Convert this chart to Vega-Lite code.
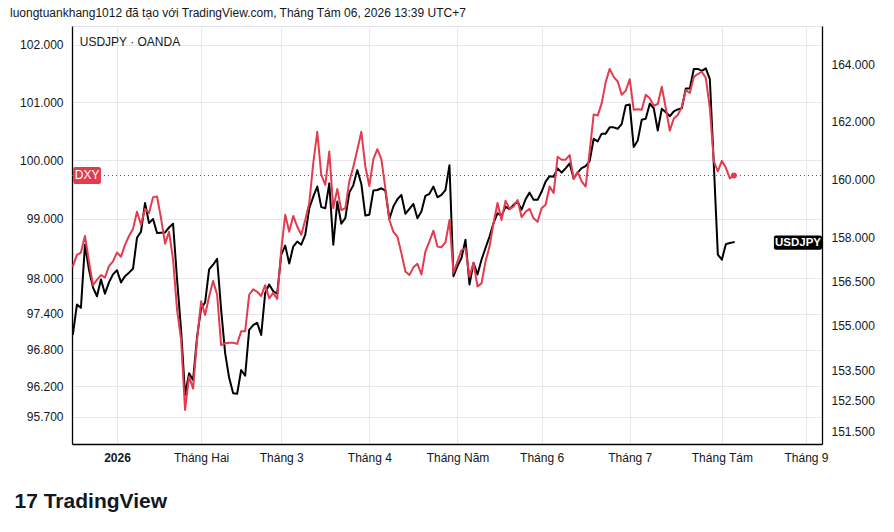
{
  "$schema": "https://vega.github.io/schema/vega-lite/v6.json",
  "description": "USDJPY (OANDA, right axis) against DXY (left axis), daily, Dec 2025 - Aug 2026, log scales as in the TradingView snapshot.",
  "width": 750,
  "height": 418,
  "autosize": "none",
  "padding": {"left": 72, "top": 26, "right": 72, "bottom": 88},
  "background": "#ffffff",
  "config": {
    "view": {"stroke": "#e0e3eb"},
    "font": "Liberation Sans",
    "axis": {
      "labelFont": "Liberation Sans",
      "labelFontSize": 12,
      "labelColor": "#131722",
      "domainColor": "#000000",
      "domainWidth": 1.3,
      "ticks": false,
      "gridColor": "#e6e8ee",
      "gridWidth": 1
    }
  },
  "title": {
    "text": "luongtuankhang1012 đã tạo với TradingView.com, Tháng Tám 06, 2026 13:39 UTC+7",
    "anchor": "start",
    "frame": "group",
    "dx": -62,
    "offset": 6,
    "font": "Liberation Sans",
    "fontSize": 12,
    "fontWeight": "normal",
    "color": "#131722"
  },
  "datasets": {
    "fx": [
      {"i": -11, "dxy": 98.20, "usdjpy": 154.72},
      {"i": -10, "dxy": 98.39, "usdjpy": 155.71},
      {"i": -9, "dxy": 98.43, "usdjpy": 155.60},
      {"i": -8, "dxy": 98.71, "usdjpy": 157.74},
      {"i": -7, "dxy": 98.28, "usdjpy": 156.90},
      {"i": -6, "dxy": 97.88, "usdjpy": 156.29},
      {"i": -5, "dxy": 97.97, "usdjpy": 155.99},
      {"i": -4, "dxy": 98.05, "usdjpy": 156.56},
      {"i": -3, "dxy": 98.01, "usdjpy": 156.08},
      {"i": -2, "dxy": 98.20, "usdjpy": 156.46},
      {"i": -1, "dxy": 98.28, "usdjpy": 156.73},
      {"i": 0, "dxy": 98.43, "usdjpy": 156.87},
      {"i": 1, "dxy": 98.36, "usdjpy": 156.46},
      {"i": 2, "dxy": 98.56, "usdjpy": 156.67},
      {"i": 3, "dxy": 98.71, "usdjpy": 156.79},
      {"i": 4, "dxy": 98.83, "usdjpy": 156.92},
      {"i": 5, "dxy": 99.12, "usdjpy": 157.98},
      {"i": 6, "dxy": 98.90, "usdjpy": 158.19},
      {"i": 7, "dxy": 99.17, "usdjpy": 159.17},
      {"i": 8, "dxy": 99.10, "usdjpy": 158.48},
      {"i": 9, "dxy": 99.37, "usdjpy": 158.62},
      {"i": 10, "dxy": 99.38, "usdjpy": 158.14},
      {"i": 11, "dxy": 99.01, "usdjpy": 158.15},
      {"i": 12, "dxy": 98.58, "usdjpy": 158.16},
      {"i": 13, "dxy": 98.78, "usdjpy": 158.33},
      {"i": 14, "dxy": 98.31, "usdjpy": 158.46},
      {"i": 15, "dxy": 97.47, "usdjpy": 156.56},
      {"i": 16, "dxy": 96.97, "usdjpy": 154.86},
      {"i": 17, "dxy": 95.81, "usdjpy": 152.70},
      {"i": 18, "dxy": 96.36, "usdjpy": 153.41},
      {"i": 19, "dxy": 96.16, "usdjpy": 153.19},
      {"i": 20, "dxy": 96.97, "usdjpy": 154.63},
      {"i": 21, "dxy": 97.61, "usdjpy": 155.59},
      {"i": 22, "dxy": 97.38, "usdjpy": 155.78},
      {"i": 23, "dxy": 97.69, "usdjpy": 156.90},
      {"i": 24, "dxy": 97.95, "usdjpy": 157.06},
      {"i": 25, "dxy": 97.72, "usdjpy": 157.26},
      {"i": 26, "dxy": 96.88, "usdjpy": 155.54},
      {"i": 27, "dxy": 96.91, "usdjpy": 154.08},
      {"i": 28, "dxy": 96.92, "usdjpy": 153.26},
      {"i": 29, "dxy": 96.92, "usdjpy": 152.75},
      {"i": 30, "dxy": 96.90, "usdjpy": 152.73},
      {"i": 31, "dxy": 97.11, "usdjpy": 153.52},
      {"i": 32, "dxy": 97.11, "usdjpy": 153.33},
      {"i": 33, "dxy": 97.72, "usdjpy": 154.86},
      {"i": 34, "dxy": 97.81, "usdjpy": 155.02},
      {"i": 35, "dxy": 97.77, "usdjpy": 155.10},
      {"i": 36, "dxy": 97.70, "usdjpy": 154.69},
      {"i": 37, "dxy": 97.88, "usdjpy": 156.10},
      {"i": 38, "dxy": 97.66, "usdjpy": 156.39},
      {"i": 39, "dxy": 97.75, "usdjpy": 156.16},
      {"i": 40, "dxy": 97.65, "usdjpy": 156.08},
      {"i": 41, "dxy": 98.47, "usdjpy": 157.40},
      {"i": 42, "dxy": 99.07, "usdjpy": 157.71},
      {"i": 43, "dxy": 98.78, "usdjpy": 157.10},
      {"i": 44, "dxy": 99.05, "usdjpy": 157.68},
      {"i": 45, "dxy": 98.87, "usdjpy": 157.85},
      {"i": 46, "dxy": 98.73, "usdjpy": 157.74},
      {"i": 47, "dxy": 98.98, "usdjpy": 158.08},
      {"i": 48, "dxy": 99.27, "usdjpy": 158.99},
      {"i": 49, "dxy": 99.95, "usdjpy": 159.39},
      {"i": 50, "dxy": 100.49, "usdjpy": 159.74},
      {"i": 51, "dxy": 99.75, "usdjpy": 159.03},
      {"i": 52, "dxy": 99.58, "usdjpy": 158.99},
      {"i": 53, "dxy": 100.15, "usdjpy": 159.85},
      {"i": 54, "dxy": 99.18, "usdjpy": 157.74},
      {"i": 55, "dxy": 99.51, "usdjpy": 159.22},
      {"i": 56, "dxy": 99.15, "usdjpy": 158.46},
      {"i": 57, "dxy": 99.18, "usdjpy": 158.65},
      {"i": 58, "dxy": 99.64, "usdjpy": 159.53},
      {"i": 59, "dxy": 99.89, "usdjpy": 159.79},
      {"i": 60, "dxy": 100.18, "usdjpy": 160.31},
      {"i": 61, "dxy": 100.49, "usdjpy": 159.83},
      {"i": 62, "dxy": 99.89, "usdjpy": 158.74},
      {"i": 63, "dxy": 99.56, "usdjpy": 158.77},
      {"i": 64, "dxy": 100.02, "usdjpy": 159.60},
      {"i": 65, "dxy": 100.19, "usdjpy": 159.62},
      {"i": 66, "dxy": 100.02, "usdjpy": 159.68},
      {"i": 67, "dxy": 99.52, "usdjpy": 159.60},
      {"i": 68, "dxy": 98.98, "usdjpy": 158.62},
      {"i": 69, "dxy": 98.78, "usdjpy": 159.05},
      {"i": 70, "dxy": 98.70, "usdjpy": 159.30},
      {"i": 71, "dxy": 98.42, "usdjpy": 159.45},
      {"i": 72, "dxy": 98.11, "usdjpy": 158.80},
      {"i": 73, "dxy": 98.05, "usdjpy": 158.97},
      {"i": 74, "dxy": 98.18, "usdjpy": 159.14},
      {"i": 75, "dxy": 98.24, "usdjpy": 158.65},
      {"i": 76, "dxy": 98.06, "usdjpy": 158.88},
      {"i": 77, "dxy": 98.45, "usdjpy": 159.42},
      {"i": 78, "dxy": 98.62, "usdjpy": 159.49},
      {"i": 79, "dxy": 98.80, "usdjpy": 159.74},
      {"i": 80, "dxy": 98.53, "usdjpy": 159.37},
      {"i": 81, "dxy": 98.52, "usdjpy": 159.45},
      {"i": 82, "dxy": 98.60, "usdjpy": 159.62},
      {"i": 83, "dxy": 98.98, "usdjpy": 160.48},
      {"i": 84, "dxy": 98.09, "usdjpy": 156.67},
      {"i": 85, "dxy": 98.28, "usdjpy": 157.01},
      {"i": 86, "dxy": 98.47, "usdjpy": 157.29},
      {"i": 87, "dxy": 98.50, "usdjpy": 157.91},
      {"i": 88, "dxy": 98.02, "usdjpy": 156.39},
      {"i": 89, "dxy": 98.26, "usdjpy": 157.12},
      {"i": 90, "dxy": 97.86, "usdjpy": 156.73},
      {"i": 91, "dxy": 97.91, "usdjpy": 157.23},
      {"i": 92, "dxy": 98.28, "usdjpy": 157.63},
      {"i": 93, "dxy": 98.53, "usdjpy": 158.02},
      {"i": 94, "dxy": 98.93, "usdjpy": 158.48},
      {"i": 95, "dxy": 99.27, "usdjpy": 158.82},
      {"i": 96, "dxy": 98.98, "usdjpy": 158.73},
      {"i": 97, "dxy": 99.31, "usdjpy": 159.05},
      {"i": 98, "dxy": 99.17, "usdjpy": 158.96},
      {"i": 99, "dxy": 99.21, "usdjpy": 159.11},
      {"i": 100, "dxy": 99.32, "usdjpy": 159.22},
      {"i": 101, "dxy": 99.03, "usdjpy": 158.94},
      {"i": 102, "dxy": 99.12, "usdjpy": 159.30},
      {"i": 103, "dxy": 99.17, "usdjpy": 159.53},
      {"i": 104, "dxy": 99.01, "usdjpy": 159.28},
      {"i": 105, "dxy": 98.95, "usdjpy": 159.28},
      {"i": 106, "dxy": 99.18, "usdjpy": 159.56},
      {"i": 107, "dxy": 99.24, "usdjpy": 159.91},
      {"i": 108, "dxy": 99.55, "usdjpy": 160.10},
      {"i": 109, "dxy": 99.44, "usdjpy": 160.08},
      {"i": 110, "dxy": 100.06, "usdjpy": 160.37},
      {"i": 111, "dxy": 100.01, "usdjpy": 160.22},
      {"i": 112, "dxy": 100.01, "usdjpy": 160.37},
      {"i": 113, "dxy": 100.09, "usdjpy": 160.54},
      {"i": 114, "dxy": 99.68, "usdjpy": 160.02},
      {"i": 115, "dxy": 99.80, "usdjpy": 160.22},
      {"i": 116, "dxy": 99.64, "usdjpy": 160.38},
      {"i": 117, "dxy": 99.55, "usdjpy": 160.45},
      {"i": 118, "dxy": 100.15, "usdjpy": 160.62},
      {"i": 119, "dxy": 100.79, "usdjpy": 161.40},
      {"i": 120, "dxy": 100.77, "usdjpy": 161.31},
      {"i": 121, "dxy": 100.98, "usdjpy": 161.58},
      {"i": 122, "dxy": 101.35, "usdjpy": 161.58},
      {"i": 123, "dxy": 101.58, "usdjpy": 161.80},
      {"i": 124, "dxy": 101.44, "usdjpy": 161.80},
      {"i": 125, "dxy": 101.36, "usdjpy": 161.75},
      {"i": 126, "dxy": 101.13, "usdjpy": 161.92},
      {"i": 127, "dxy": 101.20, "usdjpy": 162.57},
      {"i": 128, "dxy": 101.40, "usdjpy": 162.60},
      {"i": 129, "dxy": 100.87, "usdjpy": 161.11},
      {"i": 130, "dxy": 100.88, "usdjpy": 161.34},
      {"i": 131, "dxy": 100.87, "usdjpy": 162.07},
      {"i": 132, "dxy": 101.13, "usdjpy": 162.10},
      {"i": 133, "dxy": 101.07, "usdjpy": 162.63},
      {"i": 134, "dxy": 100.94, "usdjpy": 162.47},
      {"i": 135, "dxy": 100.97, "usdjpy": 161.69},
      {"i": 136, "dxy": 101.27, "usdjpy": 162.45},
      {"i": 137, "dxy": 100.90, "usdjpy": 162.33},
      {"i": 138, "dxy": 100.51, "usdjpy": 162.19},
      {"i": 139, "dxy": 100.72, "usdjpy": 162.36},
      {"i": 140, "dxy": 100.78, "usdjpy": 162.43},
      {"i": 141, "dxy": 100.92, "usdjpy": 162.47},
      {"i": 142, "dxy": 101.21, "usdjpy": 163.17},
      {"i": 143, "dxy": 101.16, "usdjpy": 163.17},
      {"i": 144, "dxy": 101.44, "usdjpy": 163.86},
      {"i": 145, "dxy": 101.49, "usdjpy": 163.86},
      {"i": 146, "dxy": 101.53, "usdjpy": 163.79},
      {"i": 147, "dxy": 101.42, "usdjpy": 163.88},
      {"i": 148, "dxy": 100.90, "usdjpy": 163.50},
      {"i": 149, "dxy": 99.98, "usdjpy": 160.48},
      {"i": 150, "dxy": 99.81, "usdjpy": 157.40},
      {"i": 151, "dxy": 99.99, "usdjpy": 157.23},
      {"i": 152, "dxy": 99.87, "usdjpy": 157.76},
      {"i": 153, "dxy": 99.69, "usdjpy": 157.80},
      {"i": 154, "dxy": 99.74, "usdjpy": 157.83}
    ]
  },
  "data": {"name": "fx"},
  "encoding": {
    "x": {
      "field": "i",
      "type": "quantitative",
      "scale": {"domain": [-11.23, 176.0], "nice": false, "zero": false},
      "axis": {
        "values": [0, 21, 41, 63, 85, 106, 128, 151, 172],
        "labelExpr": "datum.value == 0 ? '2026' : datum.value == 21 ? 'Tháng Hai' : datum.value == 41 ? 'Tháng 3' : datum.value == 63 ? 'Tháng 4' : datum.value == 85 ? 'Tháng Năm' : datum.value == 106 ? 'Tháng 6' : datum.value == 128 ? 'Tháng 7' : datum.value == 151 ? 'Tháng Tám' : 'Tháng 9'",
        "labelFontWeight": {"condition": {"test": "datum.value == 0", "value": "bold"}, "value": "normal"},
        "labelPadding": 8,
        "labelFlush": false,
        "labelOverlap": false,
        "grid": true,
        "title": "17 TradingView",
        "titleX": -58,
        "titleY": 57,
        "titleAlign": "left",
        "titleBaseline": "middle",
        "titleFont": "Liberation Sans",
        "titleFontSize": 21,
        "titleFontWeight": "bold",
        "titleColor": "#131722"
      }
    }
  },
  "layer": [
    {
      "encoding": {
        "y": {
          "field": "usdjpy",
          "type": "quantitative",
          "scale": {"type": "log", "domain": [151.08, 165.39], "nice": false, "zero": false},
          "axis": {
            "orient": "right",
            "title": null,
            "values": [151.5, 152.5, 153.5, 155, 156.5, 158, 160, 162, 164],
            "format": ".3f",
            "grid": false,
            "labelPadding": 9
          }
        }
      },
      "layer": [
        {
          "mark": {"type": "line", "color": "#000000", "strokeWidth": 2, "strokeJoin": "round", "strokeCap": "round"}
        },
        {
          "transform": [{"filter": "datum.i == 154"}],
          "mark": {"type": "rect", "color": "#000000", "cornerRadius": 2},
          "encoding": {
            "x": {"datum": 164.0},
            "x2": {"datum": 176.0},
            "y": {"datum": 158.055},
            "y2": {"datum": 157.571}
          }
        },
        {
          "transform": [{"filter": "datum.i == 154"}],
          "mark": {"type": "text", "text": "USDJPY", "color": "#ffffff", "font": "Liberation Sans", "fontSize": 11.5, "fontWeight": "bold", "align": "center", "baseline": "middle"},
          "encoding": {
            "x": {"datum": 170.0},
            "y": {"datum": 157.81}
          }
        },
        {
          "transform": [{"filter": "datum.i == 154"}],
          "mark": {"type": "text", "text": "USDJPY · OANDA", "color": "#131722", "font": "Liberation Sans", "fontSize": 12, "align": "left", "baseline": "middle"},
          "encoding": {
            "x": {"datum": -9.3},
            "y": {"datum": 164.83}
          }
        }
      ]
    },
    {
      "encoding": {
        "y": {
          "field": "dxy",
          "type": "quantitative",
          "scale": {"type": "log", "domain": [95.25, 102.33], "nice": false, "zero": false},
          "axis": {
            "orient": "left",
            "title": null,
            "values": [95.7, 96.2, 96.8, 97.4, 98, 99, 100, 101, 102],
            "format": ".3f",
            "grid": true,
            "labelPadding": 9
          }
        }
      },
      "layer": [
        {
          "transform": [{"filter": "datum.i == 154"}],
          "mark": {"type": "rule", "color": "#a8323f", "strokeWidth": 1, "strokeDash": [1, 3]},
          "encoding": {
            "x": {"datum": -11.23},
            "x2": {"datum": 176.0},
            "y": {"datum": 99.74}
          }
        },
        {
          "mark": {"type": "line", "color": "#e33b4f", "strokeWidth": 2, "strokeJoin": "round", "strokeCap": "round"}
        },
        {
          "transform": [{"filter": "datum.i == 154"}],
          "mark": {"type": "point", "filled": true, "color": "#e33b4f", "size": 36, "opacity": 1}
        },
        {
          "transform": [{"filter": "datum.i == 154"}],
          "mark": {"type": "rect", "color": "#e33b4f", "cornerRadius": 2},
          "encoding": {
            "x": {"datum": -10.95},
            "x2": {"datum": -4.0},
            "y": {"datum": 99.886},
            "y2": {"datum": 99.596}
          }
        },
        {
          "transform": [{"filter": "datum.i == 154"}],
          "mark": {"type": "text", "text": "DXY", "color": "#ffffff", "font": "Liberation Sans", "fontSize": 12, "align": "center", "baseline": "middle"},
          "encoding": {
            "x": {"datum": -7.47},
            "y": {"datum": 99.74}
          }
        }
      ]
    }
  ],
  "resolve": {"scale": {"y": "independent"}, "axis": {"y": "independent"}}
}
